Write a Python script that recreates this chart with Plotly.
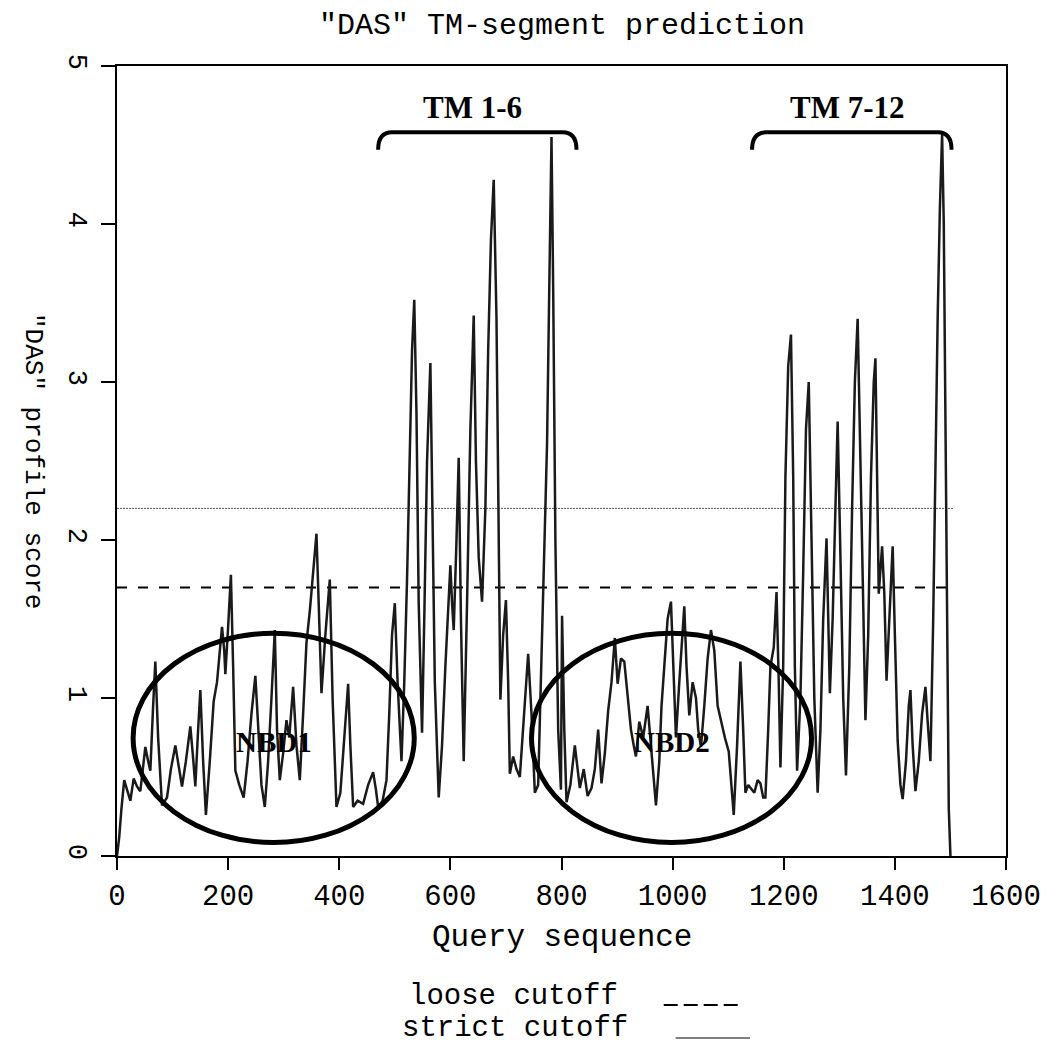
import plotly.graph_objects as go

# ---------------- data ----------------
seq_pos = [0, 4, 8, 13, 18, 24, 30, 36, 42, 47, 51, 56, 60, 65, 69, 74, 81, 90, 97, 105,
           110, 117, 124, 132, 137, 141, 146, 150, 155, 160, 167, 174, 180, 186, 189, 193, 195, 200, 205, 209,
           213, 220, 228, 235, 242, 249, 255, 260, 266, 272, 278, 284, 288, 293, 299, 305, 310, 317, 323, 329,
           335, 341, 347, 352, 359, 363, 368, 375, 383, 388, 395, 402, 409, 416, 420, 425, 433, 443, 452, 461,
           466, 470, 478, 485, 490, 495, 500, 505, 512, 517, 522, 527, 531, 535, 539, 543, 549, 553, 558, 564,
           568, 572, 579, 585, 591, 596, 600, 603, 606, 611, 615, 619, 624, 630, 636, 642, 646, 651, 657, 663,
           668, 673, 678, 683, 687, 690, 695, 700, 704, 707, 713, 719, 725, 732, 740, 746, 752, 758, 764, 770,
           774, 778, 782, 785, 789, 794, 799, 801, 805, 809, 816, 824, 829, 833, 840, 847, 854, 860, 866, 872,
           878, 884, 890, 896, 901, 907, 913, 919, 925, 930, 934, 940, 947, 955, 961, 966, 970, 976, 980, 985,
           991, 997, 1001, 1006, 1012, 1017, 1021, 1025, 1030, 1036, 1042, 1046, 1051, 1057, 1063, 1069, 1075, 1081, 1087, 1094,
           1101, 1106, 1110, 1116, 1122, 1127, 1131, 1136, 1140, 1147, 1153, 1158, 1163, 1167, 1172, 1176, 1182, 1187, 1191, 1194,
           1199, 1203, 1208, 1213, 1217, 1220, 1224, 1230, 1235, 1240, 1245, 1250, 1255, 1261, 1266, 1271, 1277, 1283, 1288, 1293,
           1297, 1302, 1307, 1312, 1318, 1323, 1328, 1333, 1338, 1343, 1347, 1352, 1357, 1362, 1365, 1368, 1371, 1377, 1381, 1385,
           1391, 1396, 1400, 1405, 1410, 1414, 1420, 1425, 1428, 1432, 1437, 1443, 1449, 1455, 1459, 1464, 1469, 1473, 1477, 1481,
           1485, 1488, 1491, 1494, 1497, 1500]
das_score = [0.00, 0.12, 0.30, 0.48, 0.42, 0.35, 0.49, 0.44, 0.41, 0.55, 0.69, 0.60, 0.54, 0.95, 1.23, 0.75, 0.32, 0.37, 0.55, 0.70,
             0.58, 0.44, 0.60, 0.82, 0.62, 0.44, 0.80, 1.05, 0.60, 0.26, 0.60, 0.98, 1.10, 1.35, 1.45, 1.30, 1.15, 1.45, 1.78, 1.20,
             0.54, 0.45, 0.37, 0.60, 0.90, 1.14, 0.80, 0.45, 0.31, 0.60, 1.00, 1.43, 0.80, 0.48, 0.65, 0.86, 0.75, 1.07, 0.70, 0.48,
             0.90, 1.35, 1.55, 1.75, 2.04, 1.60, 1.03, 1.40, 1.75, 1.00, 0.31, 0.40, 0.75, 1.09, 0.70, 0.31, 0.35, 0.33, 0.45, 0.53,
             0.42, 0.31, 0.35, 0.48, 0.90, 1.40, 1.60, 1.10, 0.60, 1.10, 1.75, 2.60, 3.20, 3.52, 2.80, 1.60, 0.78, 1.50, 2.50, 3.12,
             2.20, 1.10, 0.37, 0.70, 1.20, 1.55, 1.84, 1.60, 1.43, 2.00, 2.52, 1.50, 0.60, 1.60, 2.70, 3.42, 2.50, 1.89, 1.61, 2.20,
             3.20, 3.90, 4.28, 3.40, 2.00, 0.99, 1.40, 1.62, 1.10, 0.52, 0.63, 0.55, 0.50, 0.85, 1.28, 0.90, 0.40, 0.45, 1.20, 2.00,
             2.61, 3.60, 4.55, 3.60, 2.00, 0.80, 0.42, 1.52, 0.80, 0.34, 0.45, 0.70, 0.55, 0.43, 0.55, 0.38, 0.43, 0.55, 0.80, 0.46,
             0.65, 0.92, 1.10, 1.38, 1.09, 1.25, 1.23, 1.00, 0.80, 0.70, 0.63, 0.85, 0.75, 0.95, 0.70, 0.45, 0.32, 0.60, 0.95, 1.20,
             1.50, 1.61, 1.20, 0.75, 1.10, 1.40, 1.58, 1.20, 0.89, 1.10, 1.00, 0.80, 0.69, 0.95, 1.25, 1.43, 1.30, 0.95, 0.85, 0.75,
             0.66, 0.40, 0.26, 0.70, 1.23, 0.80, 0.40, 0.45, 0.43, 0.40, 0.48, 0.46, 0.37, 0.37, 0.80, 1.20, 1.32, 1.67, 1.10, 0.56,
             1.20, 2.40, 3.10, 3.30, 2.40, 1.20, 0.54, 1.00, 1.80, 2.70, 3.00, 2.10, 1.00, 0.40, 0.80, 1.50, 2.01, 1.03, 1.50, 2.20,
             2.75, 1.90, 1.00, 0.51, 1.20, 2.20, 3.00, 3.40, 2.60, 1.60, 0.86, 1.40, 2.40, 3.00, 3.15, 2.40, 1.66, 1.96, 1.66, 1.11,
             1.60, 1.96, 1.40, 0.73, 0.45, 0.36, 0.60, 0.95, 1.05, 0.70, 0.41, 0.60, 0.90, 1.07, 0.85, 0.60, 1.50, 2.50, 3.40, 4.10,
             4.57, 4.00, 2.80, 1.20, 0.30, 0.00]

loose_cutoff = 1.7
strict_cutoff = 2.2
cutoff_span = [0, 1505]

x_ticks = [0, 200, 400, 600, 800, 1000, 1200, 1400, 1600]
y_ticks = [0, 1, 2, 3, 4, 5]

# annotated regions: (label, start, end)
tm_regions = [("TM 1-6", 470, 827), ("TM 7-12", 1143, 1502)]
nbd_regions = [("NBD1", 29, 535), ("NBD2", 746, 1250)]

# ---------------- styling ----------------
MONO = "Liberation Mono, Courier New, monospace"
SERIF = "Liberation Serif, Times New Roman, serif"
W, H = 1053, 1052
L, R, T, B = 117, 40, 66, 196

fig = go.Figure()

fig.add_trace(go.Scatter(x=cutoff_span, y=[strict_cutoff] * 2, mode="lines",
                         line=dict(color="#555555", width=1, dash="2px,1px"), hoverinfo="skip"))
fig.add_trace(go.Scatter(x=cutoff_span, y=[loose_cutoff] * 2, mode="lines",
                         line=dict(color="black", width=2, dash="10px,11px"), hoverinfo="skip"))
fig.add_trace(go.Scatter(x=seq_pos, y=das_score, mode="lines",
                         line=dict(color="#1a1a1a", width=2.5), hoverinfo="skip"))

shapes = []
annotations = []

# NBD ellipses and labels
for label, x0, x1 in nbd_regions:
    shapes.append(dict(type="circle", xref="x", yref="y", x0=x0, x1=x1, y0=0.085, y1=1.41,
                       line=dict(color="black", width=5)))
    annotations.append(dict(x=(x0 + x1) / 2, y=0.72, xref="x", yref="y", showarrow=False,
                            text="<b>%s</b>" % label, font=dict(family=SERIF, size=29, color="black")))

# TM braces and labels
for label, x0, x1 in tm_regions:
    ytop, yend, dx = 4.58, 4.47, 25
    path = (f"M {x0},{yend} Q {x0},{ytop} {x0 + dx},{ytop} "
            f"L {x1 - dx},{ytop} Q {x1},{ytop} {x1},{yend}")
    shapes.append(dict(type="path", xref="x", yref="y", path=path,
                       line=dict(color="black", width=4)))
    annotations.append(dict(x=(x0 + x1) / 2 - 8, y=4.74, xref="x", yref="y", showarrow=False,
                            text="<b>%s</b>" % label, font=dict(family=SERIF, size=31, color="black")))

# Title
annotations.append(dict(x=0.5, y=1, xref="paper", yref="paper", yshift=40, showarrow=False,
                        yanchor="middle", text='"DAS" TM-segment prediction',
                        font=dict(family=MONO, size=30, color="black")))
# x axis title
annotations.append(dict(x=0.5, y=0, xref="paper", yref="paper", yshift=-81, showarrow=False,
                        yanchor="middle", text="Query sequence",
                        font=dict(family=MONO, size=31, color="black")))
# y axis title (reads top to bottom)
annotations.append(dict(x=0, y=0.5, xref="paper", yref="paper", xshift=-84, showarrow=False,
                        xanchor="center", textangle=90, text='"DAS" profile score',
                        font=dict(family=MONO, size=26, color="black")))
# cutoff legend
annotations.append(dict(x=0.5, y=0, xref="paper", yref="paper", xshift=-48, yshift=-140,
                        showarrow=False, yanchor="middle", text="loose cutoff",
                        font=dict(family=MONO, size=29, color="black")))
annotations.append(dict(x=0.5, y=0, xref="paper", yref="paper", xshift=-47, yshift=-172,
                        showarrow=False, yanchor="middle", text="strict cutoff",
                        font=dict(family=MONO, size=29, color="black")))

# legend line samples (paper coords)
def px_to_paper_x(px):
    return (px - L) / (W - L - R)

def px_to_paper_y(py):
    return (H - B - py) / (H - T - B)

shapes.append(dict(type="line", xref="paper", yref="paper",
                   x0=px_to_paper_x(668), x1=px_to_paper_x(743),
                   y0=px_to_paper_y(1005), y1=px_to_paper_y(1005),
                   line=dict(color="black", width=2, dash="14px,6px")))
shapes.append(dict(type="line", xref="paper", yref="paper",
                   x0=px_to_paper_x(680), x1=px_to_paper_x(755),
                   y0=px_to_paper_y(1038), y1=px_to_paper_y(1038),
                   line=dict(color="#555555", width=1.5)))

fig.update_layout(
    width=W, height=H, autosize=False,
    margin=dict(l=L, r=R, t=T, b=B, pad=0),
    paper_bgcolor="white", plot_bgcolor="white",
    showlegend=False,
    shapes=shapes, annotations=annotations,
    xaxis=dict(range=[0, 1600], tickvals=x_ticks, ticktext=[str(v) for v in x_ticks],
               showgrid=False, zeroline=False, showline=True, mirror=True,
               linecolor="black", linewidth=2, ticks="outside", ticklen=12, tickwidth=2,
               tickcolor="black", tickfont=dict(family=MONO, size=29, color="black")),
    yaxis=dict(range=[0, 5], tickvals=y_ticks, ticktext=[str(v) for v in y_ticks],
               showgrid=False, zeroline=False, showline=True, mirror=True,
               linecolor="black", linewidth=2, ticks="outside", ticklen=14, tickwidth=2,
               tickcolor="black", tickangle=90,
               tickfont=dict(family=MONO, size=27, color="black")),
)

fig.write_html("out.html", config={"displayModeBar": False},
               post_script="document.body.style.margin='0';document.body.style.overflow='hidden';")
